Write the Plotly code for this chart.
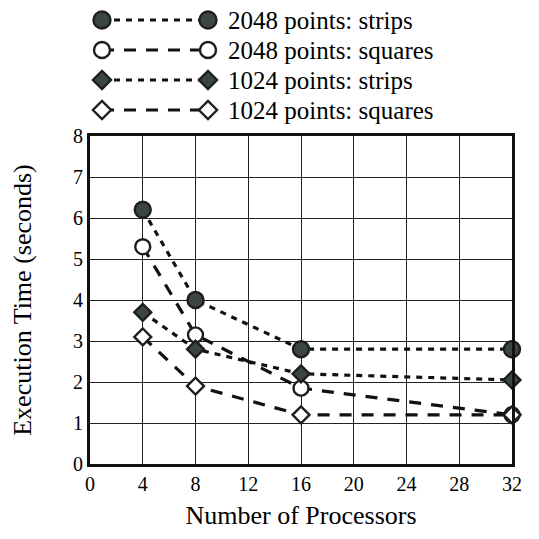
import plotly.graph_objects as go

processors = [4, 8, 16, 32]
s2048_strips = [6.2, 4.0, 2.8, 2.8]
s2048_squares = [5.3, 3.15, 1.85, 1.2]
s1024_strips = [3.7, 2.8, 2.2, 2.05]
s1024_squares = [3.1, 1.9, 1.2, 1.2]
names = ["2048 points: strips", "2048 points: squares",
         "1024 points: strips", "1024 points: squares"]
x_ticks = [0, 4, 8, 12, 16, 20, 24, 28, 32]
y_ticks = [0, 1, 2, 3, 4, 5, 6, 7, 8]

DARK = "#3a4643"
EDGE = "#1e1e1e"
FONT = "Liberation Serif, Times New Roman, serif"

# page is offset by the 8px body margin, so figure is 531x531
W, H = 531, 531
ML, MR, MB = 82, 27, 75
PLOT_H = 328
PAPER_H = H - MB              # paper starts at figure top (t=0)
PAPER_W = W - ML - MR
main_top = PLOT_H / PAPER_H

# legend layout (in pixel units of the overlay axis)
LEG_ROWS = [12, 42, 72, 102]
LEG_X = [12, 118]
LEG_TEXT_X = 136

STRIP_DASH = "6px,6px"
SQUARE_DASH = "12px,10px"

series = [
    (s2048_strips, "circle", DARK, 16, STRIP_DASH),
    (s2048_squares, "circle", "white", 15, SQUARE_DASH),
    (s1024_strips, "diamond", DARK, 13, STRIP_DASH),
    (s1024_squares, "diamond", "white", 13, SQUARE_DASH),
]

fig = go.Figure()
for (ys, sym, fill, sz, dash), nm in zip(series, names):
    fig.add_trace(go.Scatter(
        x=processors, y=ys, name=nm, mode="lines+markers",
        line=dict(color="#111", width=3.2, dash=dash),
        marker=dict(symbol=sym, size=sz, color=fill,
                    line=dict(color=EDGE, width=2.4)),
        cliponaxis=False, showlegend=False,
    ))

# custom legend: two markers joined by the series line, then label
for (ys, sym, fill, sz, dash), nm, row in zip(series, names, LEG_ROWS):
    fig.add_trace(go.Scatter(
        x=LEG_X, y=[row, row], mode="lines+markers",
        line=dict(color="#111", width=3.2, dash=dash),
        marker=dict(symbol=sym, size=sz + 1, color=fill,
                    line=dict(color=EDGE, width=2.4)),
        xaxis="x2", yaxis="y2", cliponaxis=False, showlegend=False,
        hoverinfo="skip",
    ))
    fig.add_annotation(x=LEG_TEXT_X, y=row, xref="x2", yref="y2",
                       text=nm, showarrow=False, xanchor="left",
                       yanchor="middle", font=dict(size=25, family=FONT))

fig.update_layout(
    width=W, height=H,
    margin=dict(l=ML, r=MR, t=0, b=MB, autoexpand=False),
    paper_bgcolor="white", plot_bgcolor="white",
    font=dict(family=FONT, color="black", size=20),
    showlegend=False,
    xaxis=dict(
        range=[0, 32], tickvals=x_ticks, ticktext=[str(v) for v in x_ticks],
        showgrid=True, gridcolor="#222", gridwidth=1.3,
        showline=True, linecolor="#111", linewidth=3, mirror=True,
        zeroline=False, ticks="", tickfont=dict(size=20), automargin=False,
        title=dict(text="Number of Processors", font=dict(size=26), standoff=12),
    ),
    yaxis=dict(
        domain=[0, main_top],
        range=[0, 8], tickvals=y_ticks, ticktext=[str(v) for v in y_ticks],
        showgrid=True, gridcolor="#222", gridwidth=1.3,
        showline=True, linecolor="#111", linewidth=3, mirror=True,
        zeroline=False, ticks="", tickfont=dict(size=20), automargin=False,
        title=dict(text="Execution Time (seconds)", font=dict(size=26), standoff=34),
    ),
    xaxis2=dict(domain=[0, 1], range=[0, PAPER_W], anchor="y2",
                visible=False, fixedrange=True),
    yaxis2=dict(domain=[main_top, 1], range=[PAPER_H - PLOT_H, 0], anchor="x2",
                visible=False, fixedrange=True),
)

fig.write_html("out.html")
